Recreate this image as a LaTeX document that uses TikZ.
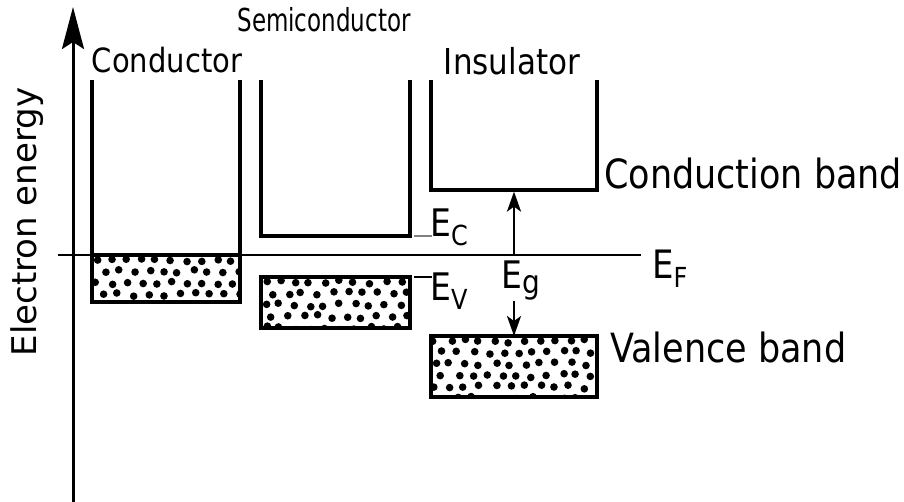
\documentclass[tikz,border=0pt]{standalone}
\usepackage{fontspec}
\setmainfont{DejaVu Sans}
\usetikzlibrary{arrows.meta}

\tikzset{
  band/.style={line width=3.2pt},
  vbox/.style={draw, line width=3.2pt, inner sep=0pt, outer sep=0pt},
  lbl/.style={inner sep=0pt, yscale=1.15, font=\fontsize{#1}{#1}\selectfont},
  gap/.style={line width=2.5pt, -{Stealth[length=20pt, width=14pt, inset=5pt]}},
}

% E with a lowered index letter
\newcommand{\Elevel}[1]{E\raisebox{-7pt}{\fontsize{24}{24}\selectfont #1}}

% random dots inside a valence band box
\newcommand{\bandDots}[1]{%
  \begin{scope}
    \clip (#1.south west) rectangle (#1.north east);
    \begin{scope}[shift={(#1.north west)}]
      \foreach \r in {0,...,6} {
        \foreach \c in {0,...,12} {
          \pgfmathsetmacro{\dx}{4+\c*15+mod(\r,2)*7.5+rand*2.5}
          \pgfmathsetmacro{\dy}{5+\r*11.5+rand*2}
          \fill (\dx,\dy) circle[radius=3.8pt];
        }
      }
    \end{scope}
  \end{scope}}

\begin{document}
\begin{tikzpicture}[x=1pt, y=-1pt]
  \pgfmathsetseed{11}
  \useasboundingbox (0,0) rectangle (904,502);

  % energy axis
  \coordinate (axisBot) at (73,502);
  \coordinate (axisTop) at (73,7);
  \draw[line width=3pt, -{Stealth[length=42pt, width=22pt, inset=7pt]}] (axisBot) -- (axisTop);
  \node[inner sep=0pt, font=\fontsize{34}{34}\selectfont, rotate=90] (yLbl) at (27,222) {Electron energy};

  % valence band boxes
  \node[vbox, minimum width=148pt, minimum height=47pt] (condVB) at (166,278.5) {};
  \node[vbox, minimum width=149pt, minimum height=51pt] (semiVB) at (335.5,302.5) {};
  \node[vbox, minimum width=166pt, minimum height=61pt] (insVB) at (514,366.5) {};
  \bandDots{condVB}
  \bandDots{semiVB}
  \bandDots{insVB}
  \draw[band] (condVB.south west) rectangle (condVB.north east);
  \draw[band] (semiVB.south west) rectangle (semiVB.north east);
  \draw[band] (insVB.south west) rectangle (insVB.north east);

  % conduction band walls
  \draw[band] (92,80) -- (condVB.north west);
  \draw[band] (240,80) -- (condVB.north east);
  \draw[band] (261,80) -- (261,236) -- (410,236) -- (410,80);
  \draw[band] (431,80) -- (431,190) -- (597,190) -- (597,80);
  \coordinate (insCB) at (514,191.6);

  % Fermi level
  \coordinate (efL) at (58,255);
  \coordinate (efR) at (641,255);
  \draw[line width=2.5pt] (efL) -- (efR);

  % band edges of the semiconductor
  \draw[line width=1.5pt, gray] (414,236) -- (432,236);
  \draw[line width=1.5pt] (414,277) -- (432,277);

  % labels
  \node[lbl=29, anchor=base] (condLbl) at (167,73) {Conductor};
  \node[lbl=25, anchor=base, xscale=0.92, yscale=1.1] (semiLbl) at (324,32) {Semiconductor};
  \node[lbl=31, anchor=base] (insLbl) at (512,75) {Insulator};
  \node[lbl=35, anchor=base west] (cbLbl) at (604,189) {Conduction band};
  \node[lbl=35, anchor=base west] (vbLbl) at (610,362) {Valence band};
  \node[lbl=34, anchor=base west] (efLbl) at (652,279) {\Elevel{F}};
  \node[lbl=33, anchor=base west] (ecLbl) at (430,237) {\Elevel{C}};
  \node[lbl=33, anchor=base west] (evLbl) at (430,301) {\Elevel{V}};
  \node[lbl=33, anchor=base west] (egLbl) at (501,289) {E\raisebox{-4pt}{\fontsize{28}{28}\selectfont g}};

  % band gap arrows
  \draw[gap] (insCB |- efL) -- (insCB);
  \draw[gap] (insVB.north |- egLbl.south) -- (insVB.north);

\end{tikzpicture}
\end{document}
